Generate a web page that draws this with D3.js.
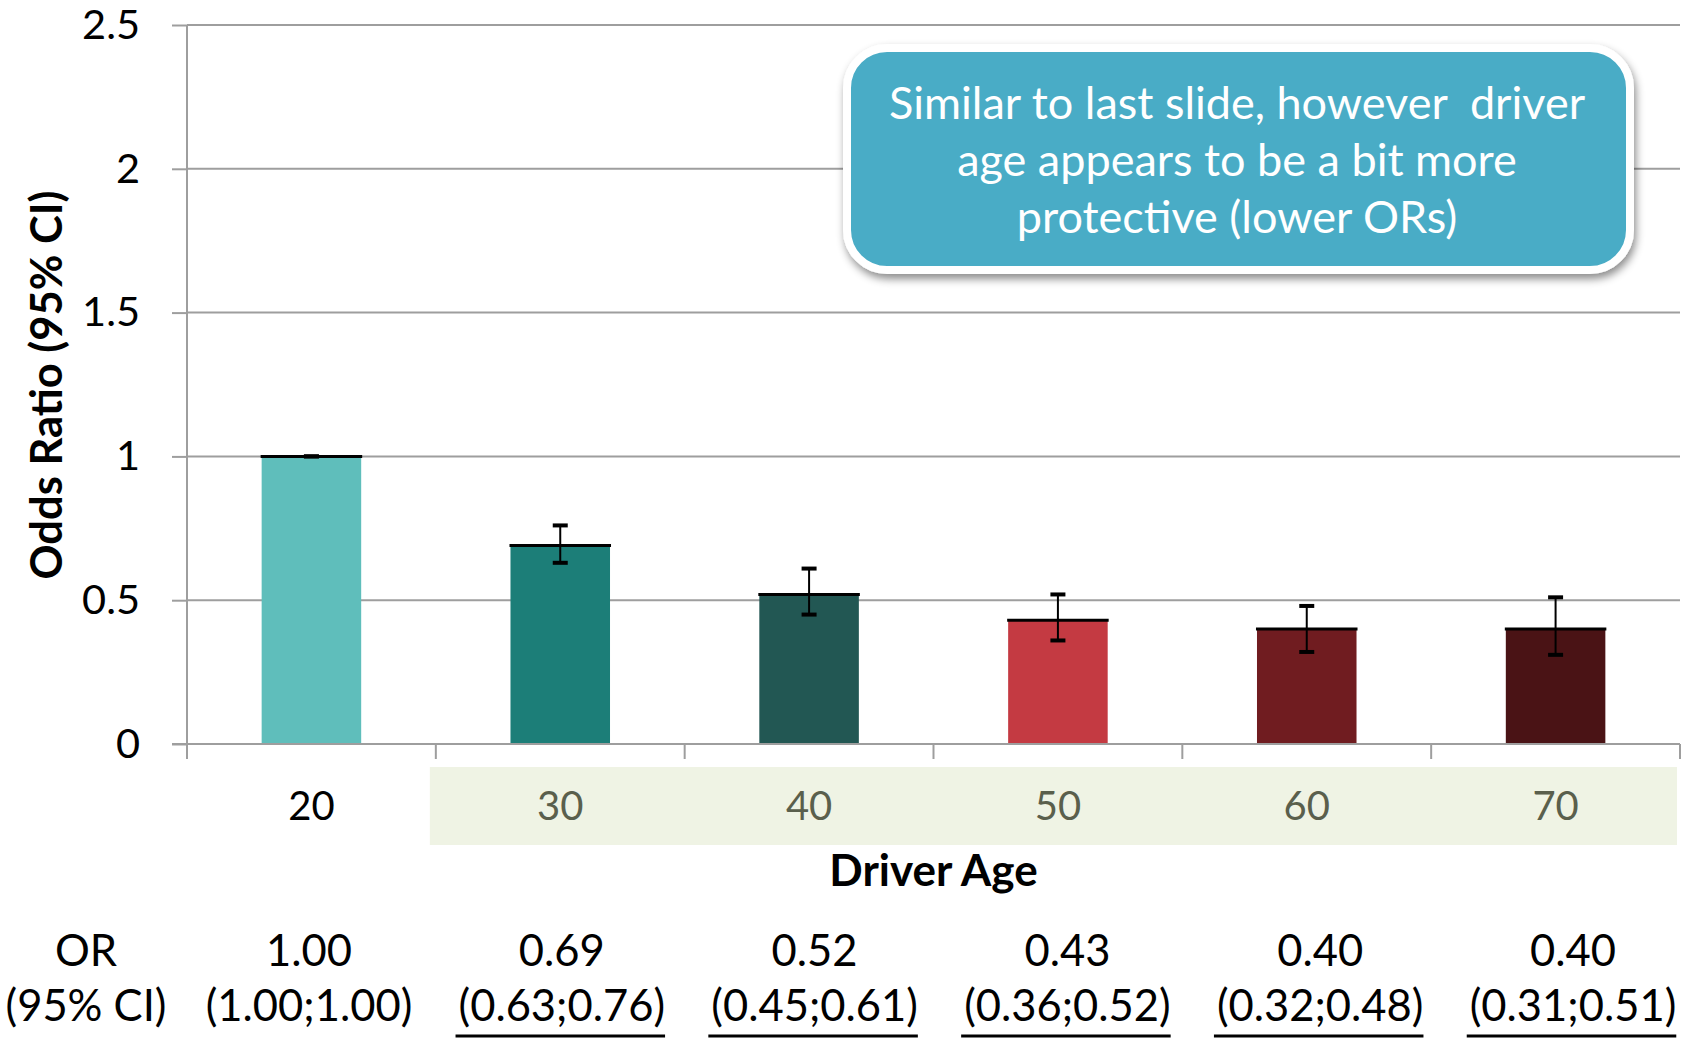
<!DOCTYPE html>
<html>
<head>
<meta charset="utf-8">
<script src="https://cdn.jsdelivr.net/npm/d3@7"></script>
<style>
  html, body { margin: 0; padding: 0; background: #fff; }
  svg { display: block; font-family: Lato, "Open Sans", sans-serif; }
</style>
</head>
<body>
<svg id="chart" width="1691" height="1038"></svg>
<script>
// Odds ratios of driver age groups (reference group: 20)
const ages = ["20", "30", "40", "50", "60", "70"];
const oddsRatio = [1.00, 0.69, 0.52, 0.43, 0.40, 0.40];
const ciLow = [1.00, 0.63, 0.45, 0.36, 0.32, 0.31];
const ciHigh = [1.00, 0.76, 0.61, 0.52, 0.48, 0.51];
const barColors = ["#5fbebb", "#1c7e78", "#225753", "#c43a42", "#701c20", "#4a1315"];
const yTicks = [0, 0.5, 1, 1.5, 2, 2.5];
const yTickLabels = ["0", "0.5", "1", "1.5", "2", "2.5"];
const noteLines = ["Similar to last slide, however  driver", "age appears to be a bit more", "protective (lower ORs)"];

const svg = d3.select("#chart");
const plot = { left: 187, right: 1680, top: 25, bottom: 744 };

const x = d3.scaleBand().domain(ages).range([plot.left, plot.right])
  .paddingInner(0.6).paddingOuter(0.3);
const y = d3.scaleLinear().domain([0, 2.5]).range([plot.bottom, plot.top]);
const step = x.step();
const gridColor = "#9e9e9e";

// light band behind the non-reference age labels
const bandStart = x("30") - x.paddingOuter() * step - 6;
svg.append("rect")
  .attr("x", bandStart)
  .attr("y", 767)
  .attr("width", plot.right - bandStart - 3)
  .attr("height", 78)
  .attr("fill", "#eff3e4");

// horizontal gridlines with left tick marks
const yAxis = d3.axisLeft(y).tickValues(yTicks)
  .tickFormat((d, i) => yTickLabels[i])
  .tickSize(15).tickPadding(32);
const gy = svg.append("g").attr("transform", `translate(${plot.left},0)`).call(yAxis);
gy.select(".domain").remove();
gy.selectAll(".tick line").attr("stroke", gridColor).attr("stroke-width", 2);
gy.selectAll(".tick text").attr("fill", "#000").style("font-size", "41.5px")
  .style("font-family", "Lato, sans-serif");
svg.append("g").selectAll("line").data(yTicks).join("line")
  .attr("x1", plot.left).attr("x2", plot.right)
  .attr("y1", d => y(d)).attr("y2", d => y(d))
  .attr("stroke", gridColor).attr("stroke-width", 2);

// vertical axis line, extended below the baseline like a tick
svg.append("line")
  .attr("x1", plot.left).attr("x2", plot.left)
  .attr("y1", plot.top).attr("y2", plot.bottom + 15)
  .attr("stroke", gridColor).attr("stroke-width", 2);

// category boundary ticks
svg.append("g").selectAll("line").data(ages).join("line")
  .attr("x1", d => x(d) - x.paddingOuter() * step + step)
  .attr("x2", d => x(d) - x.paddingOuter() * step + step)
  .attr("y1", plot.bottom).attr("y2", plot.bottom + 15)
  .attr("stroke", gridColor).attr("stroke-width", 2);

// bars
const data = ages.map((a, i) => ({ age: a, or: oddsRatio[i], lo: ciLow[i], hi: ciHigh[i], color: barColors[i] }));
svg.append("g").selectAll("rect").data(data).join("rect")
  .attr("x", d => x(d.age)).attr("width", x.bandwidth())
  .attr("y", d => y(d.or)).attr("height", d => y(0) - y(d.or))
  .attr("fill", d => d.color);
svg.append("g").selectAll("line").data(data).join("line")
  .attr("x1", d => x(d.age) - 1).attr("x2", d => x(d.age) + x.bandwidth() + 1)
  .attr("y1", d => y(d.or)).attr("y2", d => y(d.or))
  .attr("stroke", "#000").attr("stroke-width", 3);

// confidence interval whiskers
const eb = svg.append("g").selectAll("g").data(data).join("g")
  .attr("transform", d => `translate(${x(d.age) + x.bandwidth() / 2},0)`);
eb.append("line").attr("x1", 0).attr("x2", 0)
  .attr("y1", d => y(d.lo)).attr("y2", d => y(d.hi))
  .attr("stroke", "#000").attr("stroke-width", 2);
eb.selectAll("line.cap").data(d => [d.lo, d.hi]).join("line").attr("class", "cap")
  .attr("x1", -7.5).attr("x2", 7.5)
  .attr("y1", v => y(v)).attr("y2", v => y(v))
  .attr("stroke", "#000").attr("stroke-width", 4);

// baseline
svg.append("line")
  .attr("x1", plot.left - 15).attr("x2", plot.right)
  .attr("y1", plot.bottom).attr("y2", plot.bottom)
  .attr("stroke", gridColor).attr("stroke-width", 2);

// age labels
svg.append("g").selectAll("text").data(ages).join("text")
  .attr("x", d => x(d) + x.bandwidth() / 2).attr("y", 820)
  .attr("text-anchor", "middle")
  .attr("fill", (d, i) => i === 0 ? "#000" : "#5a5f4c")
  .style("font-size", "40px")
  .text(d => d);

// axis titles
svg.append("text")
  .attr("x", (plot.left + plot.right) / 2).attr("y", 886)
  .attr("text-anchor", "middle").style("font-weight", "bold").style("font-size", "44px")
  .text("Driver Age");
svg.append("text")
  .attr("transform", "translate(46,385) rotate(-90)")
  .attr("dy", "0.36em")
  .attr("text-anchor", "middle").style("font-weight", "bold").style("font-size", "43.5px")
  .text("Odds Ratio (95% CI)");

// OR table beneath the chart
const tableX = d3.scalePoint().domain(ages).range([309, 1573]);
const table = svg.append("g").style("font-size", "43.5px").attr("text-anchor", "middle");
table.append("text").attr("x", 86).attr("y", 966).text("OR");
table.append("text").attr("x", 86).attr("y", 1021).text("(95% CI)");
table.selectAll("text.or").data(data).join("text").attr("class", "or")
  .attr("x", d => tableX(d.age)).attr("y", 966)
  .text(d => d.or.toFixed(2));
const ciText = table.selectAll("text.ci").data(data).join("text").attr("class", "ci")
  .attr("x", d => tableX(d.age)).attr("y", 1021)
  .text(d => `(${d.lo.toFixed(2)};${d.hi.toFixed(2)})`);
ciText.filter((d, i) => i > 0).each(function () {
  const b = this.getBBox();
  table.append("line")
    .attr("x1", b.x - 3).attr("x2", b.x + b.width)
    .attr("y1", 1036).attr("y2", 1036)
    .attr("stroke", "#000").attr("stroke-width", 3);
});

// callout box
const defs = svg.append("defs");
defs.append("filter").attr("id", "noteShadow")
  .attr("x", "-10%").attr("y", "-10%").attr("width", "120%").attr("height", "130%")
  .append("feDropShadow")
  .attr("dx", 2).attr("dy", 5).attr("stdDeviation", 4)
  .attr("flood-color", "#000").attr("flood-opacity", 0.45);
const note = svg.append("g");
note.append("rect")
  .attr("x", 847).attr("y", 48).attr("width", 783).attr("height", 222)
  .attr("rx", 40).attr("ry", 40)
  .attr("fill", "#4aacc6").attr("stroke", "#fff").attr("stroke-width", 8)
  .attr("filter", "url(#noteShadow)");
note.selectAll("text").data(noteLines).join("text")
  .attr("x", 1237).attr("y", (d, i) => 119 + i * 57)
  .attr("text-anchor", "middle").attr("fill", "#fff")
  .style("font-size", "45px").style("white-space", "pre")
  .text(d => d);
</script>
</body>
</html>
